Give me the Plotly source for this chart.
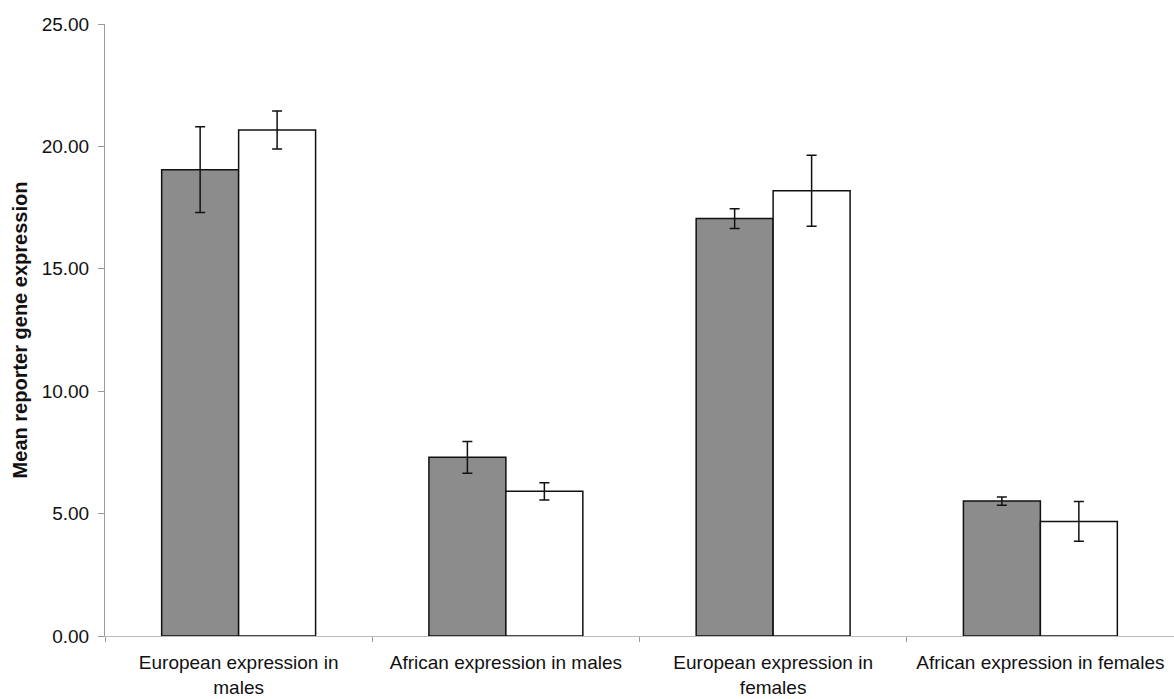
import plotly.graph_objects as go

categories = ["European expression in<br>males", "African expression in males",
              "European expression in<br>females", "African expression in females"]
gray_values = [19.05, 7.30, 17.05, 5.51]
gray_errors = [1.75, 0.65, 0.40, 0.17]
white_values = [20.67, 5.91, 18.19, 4.68]
white_errors = [0.78, 0.35, 1.45, 0.81]
y_ticks = [0, 5, 10, 15, 20, 25]

err_style = dict(type="data", visible=True, color="#111111", thickness=1.5, width=5)

fig = go.Figure()
fig.add_trace(go.Bar(x=categories, y=gray_values, name="gray",
                     marker=dict(color="#8c8c8c", line=dict(color="#111111", width=1.5)),
                     error_y=dict(array=gray_errors, **err_style)))
fig.add_trace(go.Bar(x=categories, y=white_values, name="white",
                     marker=dict(color="#ffffff", line=dict(color="#111111", width=1.5)),
                     error_y=dict(array=white_errors, **err_style)))

fig.update_layout(
    width=1174, height=699,
    margin=dict(l=105, r=0, t=24, b=63),
    barmode="group", bargap=0.424, bargroupgap=0,
    plot_bgcolor="white", paper_bgcolor="white",
    showlegend=False,
    font=dict(family="Liberation Sans, Arial, sans-serif", size=19, color="#111111"),
)
fig.update_yaxes(
    range=[0, 25], tickvals=y_ticks, tickformat=".2f",
    showgrid=False, zeroline=False, automargin=False,
    showline=True, linecolor="#999999", linewidth=1,
    ticks="outside", ticklen=6, tickcolor="#999999",
    ticklabelstandoff=5, tickfont=dict(size=19),
    title=dict(text="<b>Mean reporter gene expression</b>", font=dict(size=20), standoff=8),
)
fig.update_xaxes(
    showgrid=False, showline=True, linecolor="#bbbbbb", linewidth=1,
    ticks="outside", tickson="boundaries", ticklen=5, tickcolor="#999999",
    tickfont=dict(size=19), ticklabelstandoff=9, automargin=False,
)

fig.write_html("out.html")
